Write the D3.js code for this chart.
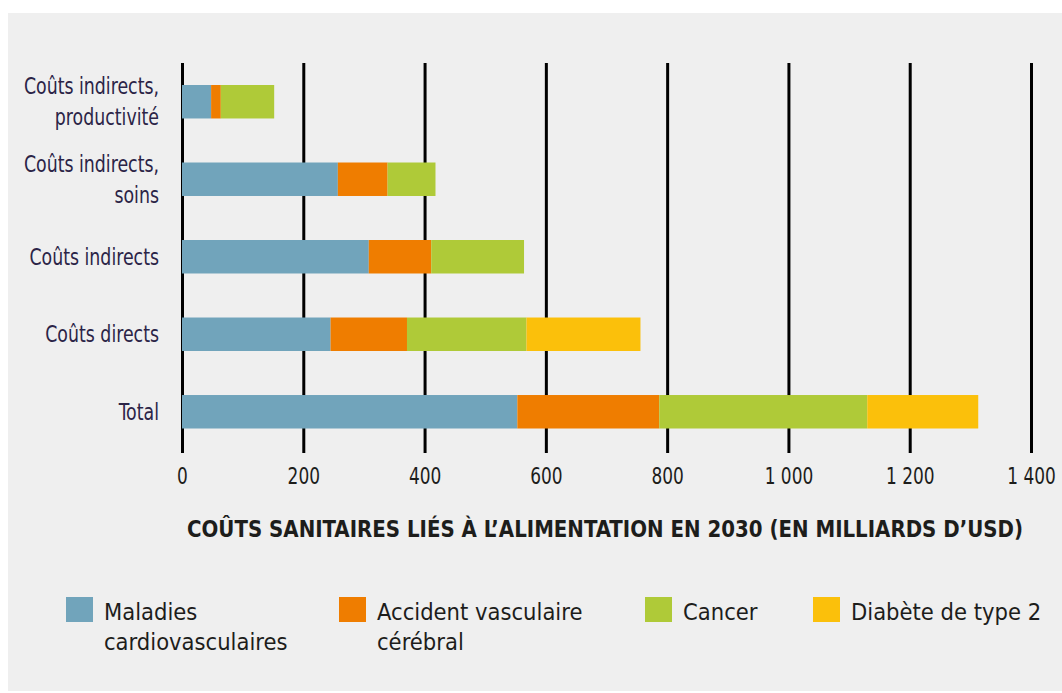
<!DOCTYPE html>
<html><head><meta charset="utf-8">
<script src="https://cdn.jsdelivr.net/npm/d3@7"></script>
<style>
body{margin:0;background:#fff;}
svg{display:block;}
text{font-family:"Liberation Sans Narrow","DejaVu Sans Condensed","Arial Narrow",sans-serif;}
</style></head>
<body>
<script>
const categories = ["Coûts indirects,\nproductivité","Coûts indirects,\nsoins","Coûts indirects","Coûts directs","Total"];
const seriesNames = ["Maladies\ncardiovasculaires","Accident vasculaire\ncérébral","Cancer","Diabète de type 2"];
const seriesColors = ["#71a4bb","#ef7d00","#afca38","#fbc00b"];
const cardio = [48, 257, 308, 245, 553];
const stroke = [16, 82, 103, 126, 234];
const cancer = [88, 79, 153, 197, 343];
const diabetes = [0, 0, 0, 188, 183];
const tickValues = [0,200,400,600,800,1000,1200,1400];
const tickLabels = ["0","200","400","600","800","1 000","1 200","1 400"];
const axisTitle = "COÛTS SANITAIRES LIÉS À L’ALIMENTATION EN 2030 (EN MILLIARDS D’USD)";

const W = 1062, H = 693;
const svg = d3.select("body").append("svg").attr("width",W).attr("height",H);
svg.append("rect").attr("x",8).attr("y",13).attr("width",W-8).attr("height",678).attr("fill","#efefef");

const x = d3.scaleLinear().domain([0,1400]).range([182,1031]);
const y = d3.scaleBand().domain(categories).range([85,428.5]).paddingInner(0.568).paddingOuter(0);

// gridlines via axis
const gTop = 63, gBot = 453;
const axis = d3.axisBottom(x).tickValues(tickValues)
  .tickFormat((d,i)=>tickLabels[i]).tickSizeInner(-(gBot-gTop)).tickSizeOuter(0).tickPadding(15);
const ax = svg.append("g").attr("transform",`translate(0,${gBot})`).call(axis);
ax.select(".domain").remove();
ax.selectAll(".tick line").attr("stroke","#000").attr("stroke-width",3);
ax.selectAll(".tick text").attr("font-size",23).attr("fill","#1d1d1b").attr("dy","0.71em")
  .attr("transform","scale(0.82,1)");

// stacked bars
const rows = categories.map((c,i)=>({cat:c, vals:[cardio[i],stroke[i],cancer[i],diabetes[i]]}));
const stack = d3.stack().keys([0,1,2,3]).value((d,k)=>d.vals[k]);
const layers = stack(rows);
svg.append("g").selectAll("g").data(layers).join("g")
  .attr("fill",(d,i)=>seriesColors[i])
  .selectAll("rect").data(d=>d).join("rect")
  .attr("x",d=>x(d[0])).attr("width",d=>Math.max(0,x(d[1])-x(d[0])))
  .attr("y",d=>y(d.data.cat)).attr("height",y.bandwidth());

// category labels
const labG = svg.append("g").attr("transform","translate(159,0) scale(0.84,1)");
categories.forEach(c=>{
  const lines = c.split("\n");
  const cy = y(c)+y.bandwidth()/2;
  const lh = 31;
  const t = labG.append("text").attr("text-anchor","end").attr("font-size",23)
    .attr("fill","#2b2447");
  lines.forEach((ln,j)=>{
    t.append("tspan").attr("x",0).attr("y",cy + (j-(lines.length-1)/2)*lh).attr("dy","0.35em").text(ln);
  });
});

// axis title
svg.append("text").attr("x",605).attr("y",529).attr("dy","0.35em").attr("text-anchor","middle")
  .attr("font-size",23).attr("font-weight","bold").attr("fill","#1d1d1b")
  .attr("textLength",836).attr("lengthAdjust","spacingAndGlyphs").text(axisTitle);

// legend
const legX = [66,339,645,813];
const legG = svg.append("g");
seriesNames.forEach((s,i)=>{
  legG.append("rect").attr("x",legX[i]).attr("y",597).attr("width",27).attr("height",25).attr("fill",seriesColors[i]);
  const t = legG.append("text").attr("font-size",23.5).attr("fill","#1d1d1b");
  s.split("\n").forEach((ln,j)=>{
    t.append("tspan").attr("x",legX[i]+38).attr("y",612+j*30).attr("dy","0.35em").text(ln);
  });
});
</script>
</body></html>
